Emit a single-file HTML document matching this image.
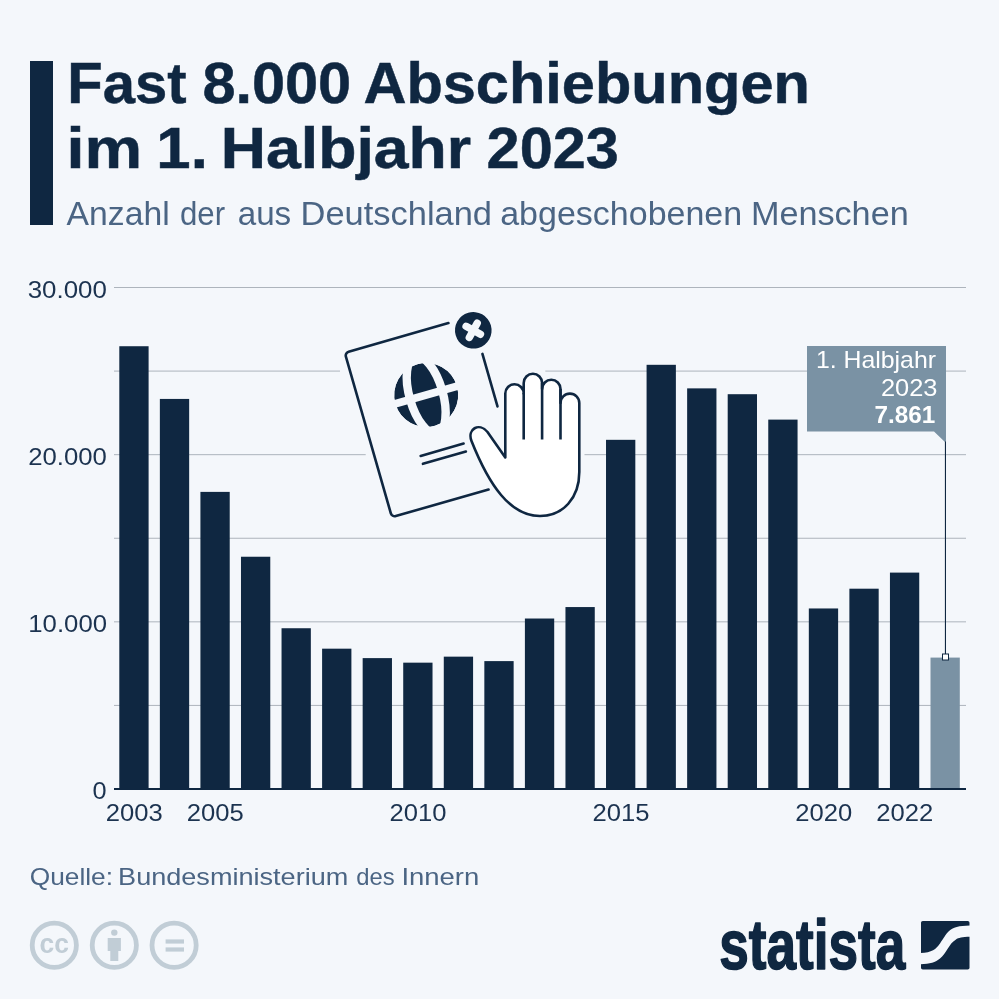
<!DOCTYPE html>
<html lang="de">
<head>
<meta charset="utf-8">
<title>Fast 8.000 Abschiebungen im 1. Halbjahr 2023</title>
<style>
html,body{margin:0;padding:0;background:#f4f7fb;}
body{width:999px;height:999px;overflow:hidden;position:relative;font-family:"Liberation Sans",sans-serif;}
svg{position:absolute;left:0;top:0;display:block;}
text{font-family:"Liberation Sans",sans-serif;}
.t{font-weight:bold;font-size:57.5px;fill:#0f2741;stroke:#0f2741;stroke-width:0.5px;}
.s{font-size:32.5px;fill:#4b6584;}
.ax{font-size:24px;fill:#1c3350;}
.src{font-size:24px;fill:#4b6584;}
.an{font-size:24px;fill:#ffffff;}
.lg{font-weight:bold;fill:#0f2741;stroke:#0f2741;stroke-width:1.6px;stroke-linejoin:round;}
.cc{font-weight:bold;fill:#c1cdd6;}
</style>
</head>
<body>
<svg width="999" height="999" viewBox="0 0 999 999">
<rect x="0" y="0" width="999" height="999" fill="#f4f7fb"/>
<!-- header -->
<rect x="30" y="61" width="23" height="164" fill="#0f2741"/>
<text class="t" y="103" style="font-size:57.5px"><tspan x="67.3" textLength="119.2" lengthAdjust="spacingAndGlyphs">Fast</tspan> <tspan x="202.4" textLength="148.8" lengthAdjust="spacingAndGlyphs">8.000</tspan> <tspan x="363.4" textLength="446.5" lengthAdjust="spacingAndGlyphs">Abschiebungen</tspan></text>
<text class="t" y="168" style="font-size:57.5px"><tspan x="66.6" textLength="75.6" lengthAdjust="spacingAndGlyphs">im</tspan> <tspan x="156.3" textLength="51.5" lengthAdjust="spacingAndGlyphs">1.</tspan> <tspan x="220.8" textLength="250.4" lengthAdjust="spacingAndGlyphs">Halbjahr</tspan> <tspan x="486.6" textLength="132.2" lengthAdjust="spacingAndGlyphs">2023</tspan></text>
<text class="s" y="224.5" style="font-size:32.5px"><tspan x="66.6" textLength="103.1" lengthAdjust="spacingAndGlyphs">Anzahl</tspan> <tspan x="180.0" textLength="45.1" lengthAdjust="spacingAndGlyphs">der</tspan> <tspan x="237.7" textLength="53.5" lengthAdjust="spacingAndGlyphs">aus</tspan> <tspan x="300.6" textLength="191.4" lengthAdjust="spacingAndGlyphs">Deutschland</tspan> <tspan x="500.2" textLength="242.0" lengthAdjust="spacingAndGlyphs">abgeschobenen</tspan> <tspan x="750.9" textLength="157.8" lengthAdjust="spacingAndGlyphs">Menschen</tspan></text>

<!-- grid -->
<g>
<rect x="114" y="287.00" width="852.0" height="1" fill="#adb4bc"/>
<rect x="114" y="370.58" width="226.0" height="1" fill="#adb4bc"/>
<rect x="545.3" y="370.58" width="420.7" height="1" fill="#adb4bc"/>
<rect x="114" y="454.17" width="251.7" height="1" fill="#adb4bc"/>
<rect x="584.5" y="454.17" width="381.5" height="1" fill="#adb4bc"/>
<rect x="114" y="537.75" width="852.0" height="1" fill="#adb4bc"/>
<rect x="114" y="621.33" width="852.0" height="1" fill="#adb4bc"/>
<rect x="114" y="704.92" width="852.0" height="1" fill="#adb4bc"/>
</g>
<text class="ax" y="297.6" style="font-size:24px"><tspan x="27.7" textLength="79.2" lengthAdjust="spacingAndGlyphs">30.000</tspan></text>
<text class="ax" y="464.8" style="font-size:24px"><tspan x="28.2" textLength="78.7" lengthAdjust="spacingAndGlyphs">20.000</tspan></text>
<text class="ax" y="631.9" style="font-size:24px"><tspan x="28.3" textLength="78.7" lengthAdjust="spacingAndGlyphs">10.000</tspan></text>
<text class="ax" y="799.1" style="font-size:24px"><tspan x="92.5" textLength="14.1" lengthAdjust="spacingAndGlyphs">0</tspan></text>
<!-- bars -->
<g>
<rect x="119.30" y="346.23" width="29.3" height="442.77" fill="#0f2741"/>
<rect x="159.86" y="398.93" width="29.3" height="390.07" fill="#0f2741"/>
<rect x="200.42" y="491.89" width="29.3" height="297.11" fill="#0f2741"/>
<rect x="240.98" y="556.74" width="29.3" height="232.26" fill="#0f2741"/>
<rect x="281.54" y="628.24" width="29.3" height="160.76" fill="#0f2741"/>
<rect x="322.10" y="648.68" width="29.3" height="140.32" fill="#0f2741"/>
<rect x="362.66" y="658.11" width="29.3" height="130.89" fill="#0f2741"/>
<rect x="403.22" y="662.66" width="29.3" height="126.34" fill="#0f2741"/>
<rect x="443.78" y="656.65" width="29.3" height="132.35" fill="#0f2741"/>
<rect x="484.34" y="661.10" width="29.3" height="127.90" fill="#0f2741"/>
<rect x="524.90" y="618.52" width="29.3" height="170.48" fill="#0f2741"/>
<rect x="565.46" y="607.06" width="29.3" height="181.94" fill="#0f2741"/>
<rect x="606.02" y="439.82" width="29.3" height="349.18" fill="#0f2741"/>
<rect x="646.58" y="364.81" width="29.3" height="424.19" fill="#0f2741"/>
<rect x="687.14" y="388.37" width="29.3" height="400.63" fill="#0f2741"/>
<rect x="727.70" y="394.20" width="29.3" height="394.80" fill="#0f2741"/>
<rect x="768.26" y="419.61" width="29.3" height="369.39" fill="#0f2741"/>
<rect x="808.82" y="608.46" width="29.3" height="180.54" fill="#0f2741"/>
<rect x="849.38" y="588.70" width="29.3" height="200.30" fill="#0f2741"/>
<rect x="889.94" y="572.60" width="29.3" height="216.40" fill="#0f2741"/>
<rect x="930.50" y="657.59" width="29.3" height="131.41" fill="#7a92a4"/>
</g>
<rect x="114" y="788" width="852" height="2" fill="#0f2741"/>
<text class="ax" y="820.6" style="font-size:24px"><tspan x="105.7" textLength="57.0" lengthAdjust="spacingAndGlyphs">2003</tspan></text>
<text class="ax" y="820.6" style="font-size:24px"><tspan x="186.8" textLength="57.0" lengthAdjust="spacingAndGlyphs">2005</tspan></text>
<text class="ax" y="820.6" style="font-size:24px"><tspan x="389.6" textLength="57.0" lengthAdjust="spacingAndGlyphs">2010</tspan></text>
<text class="ax" y="820.6" style="font-size:24px"><tspan x="592.4" textLength="57.0" lengthAdjust="spacingAndGlyphs">2015</tspan></text>
<text class="ax" y="820.6" style="font-size:24px"><tspan x="795.2" textLength="57.0" lengthAdjust="spacingAndGlyphs">2020</tspan></text>
<text class="ax" y="820.6" style="font-size:24px"><tspan x="876.3" textLength="57.0" lengthAdjust="spacingAndGlyphs">2022</tspan></text>
<!-- annotation -->
<path d="M807 346H946V443L934 431.5H807Z" fill="#7a92a4"/>
<rect x="944.9" y="441.5" width="1.1" height="213" fill="#0f2741"/>
<rect x="942.5" y="654" width="6" height="6" fill="#ffffff" stroke="#0f2741" stroke-width="1"/>
<text class="an" y="368.3" style="font-size:24px"><tspan x="815.9" textLength="120.1" lengthAdjust="spacingAndGlyphs">1. Halbjahr</tspan></text>
<text class="an" y="395.8" style="font-size:24px"><tspan x="880.9" textLength="56.5" lengthAdjust="spacingAndGlyphs">2023</tspan></text>
<text font-weight="bold" class="an" y="423.3" style="font-size:24px"><tspan x="874.6" textLength="60.7" lengthAdjust="spacingAndGlyphs">7.861</tspan></text>

<!-- icon -->
<g transform="translate(344.8 352.8) rotate(-16)" fill="none" stroke="#0f2741" stroke-width="2.6" stroke-linecap="round" stroke-linejoin="round">
<path d="M107.8 0H4a4 4 0 0 0 -4 4V167a4 4 0 0 0 4 4H100.5"/>
<path d="M132 39V93.6"/>
<path d="M44.5 120H89.2M44.5 128.3H89.2"/>
<circle cx="129.7" cy="13.8" r="18.3" fill="#0f2741" stroke="none"/>
<path d="M123.9 8L135.5 19.6M135.5 8L123.9 19.6" stroke="#f4f7fb" stroke-width="7.4"/>
<g stroke="none">
<circle cx="66.6" cy="63" r="32" fill="#0f2741"/>
<ellipse cx="66.6" cy="63" rx="16.7" ry="40" fill="none" stroke="#f4f7fb" stroke-width="8.4"/>
<rect x="30" y="59.1" width="74" height="7.8" fill="#f4f7fb"/>
<circle cx="66.6" cy="63" r="39.5" fill="none" stroke="#f4f7fb" stroke-width="15"/>
</g>
</g>
<path d="M505.3 457.5V393.5a9.2 9.2 0 0 1 18.4 0V383a9.2 9.2 0 0 1 18.4 0V389a9.2 9.2 0 0 1 18.4 0V403a9.4 9.4 0 0 1 18.8 0V472C579.3 498 563 516 540 516C510 516 489 485 471.5 441C467 429 479 422 487.5 432Z" fill="#ffffff" stroke="#0f2741" stroke-width="2.6" stroke-linejoin="round"/>
<path d="M523.7 393V439.5M542.1 383V439.5M560.5 389V439.5" fill="none" stroke="#0f2741" stroke-width="2.6" stroke-linecap="butt"/>

<!-- footer -->
<text class="src" y="884.6" style="font-size:24px"><tspan x="29.7" textLength="83.3" lengthAdjust="spacingAndGlyphs">Quelle:</tspan> <tspan x="118.1" textLength="230.2" lengthAdjust="spacingAndGlyphs">Bundesministerium</tspan> <tspan x="356.3" textLength="38.4" lengthAdjust="spacingAndGlyphs">des</tspan> <tspan x="401.4" textLength="77.9" lengthAdjust="spacingAndGlyphs">Innern</tspan></text>
<g fill="none" stroke="#c1cdd6" stroke-width="4.8">
<circle cx="54.3" cy="945.3" r="22.1"/>
<circle cx="114.3" cy="945.3" r="22.1"/>
<circle cx="174.1" cy="945.3" r="22.1"/>
</g>
<text class="cc" y="953.2" style="font-size:28px"><tspan x="39.5" textLength="29.4" lengthAdjust="spacingAndGlyphs">cc</tspan></text>
<g fill="#c1cdd6">
<circle cx="114.3" cy="932.6" r="3.2"/>
<path d="M107.7 938h13.2v13h-2.6v10h-8v-10h-2.6z"/>
<rect x="165.6" y="939.4" width="18.4" height="4.2"/>
<rect x="165.6" y="947.4" width="18.4" height="4.2"/>
</g>
<text class="lg" y="969.2" style="font-size:70px"><tspan x="719.3" textLength="186.0" lengthAdjust="spacingAndGlyphs">statista</tspan></text>
<g>
<rect x="921" y="921" width="48.5" height="48.5" rx="1.8" fill="#0f2741"/>
<path d="M920.5 952.9C932 952.6 936 949 940 943.4C944 937.5 946 934 948.5 931.5C953 927 959 925.6 970 925.4V936.8C962 936.9 958.5 938 956 939.4C952 941.8 950 945 948 948.2C945 953 943 956 940 958.6C935.5 962.5 930 964 920.5 964.2Z" fill="#f4f7fb"/>
</g>
</svg>
</body>
</html>
